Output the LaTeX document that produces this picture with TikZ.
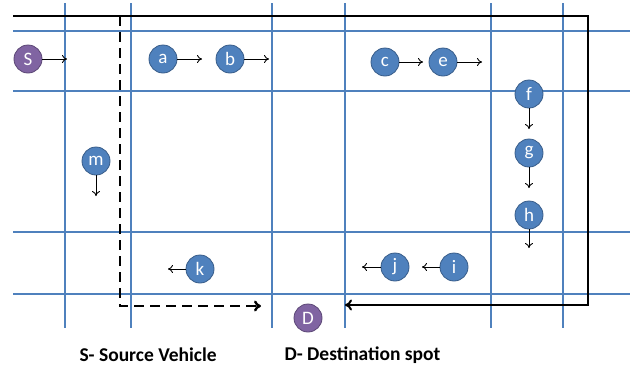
\documentclass[tikz,border=0pt]{standalone}
\usepackage{fontspec}
\setmainfont{Carlito}
\usetikzlibrary{arrows.meta}
\definecolor{gridblue}{HTML}{4F81BD}
\definecolor{nodeblue}{HTML}{4F81BD}
\definecolor{nodeedge}{HTML}{385D8A}
\definecolor{purp}{HTML}{8064A2}
\definecolor{purpedge}{HTML}{5C4776}
\tikzset{
  gridline/.style={draw=gridblue, line width=1.8pt},
  veh/.style={circle, fill=nodeblue, draw=nodeedge, line width=0.8pt, minimum size=28pt, inner sep=0pt, text=white, font=\fontsize{19}{19}\selectfont},
  endpt/.style={veh, fill=purp, draw=purpedge},
  mv/.style={-{To[length=5pt,width=8pt]}, line width=0.9pt, black},
  route/.style={line width=2pt, black, -{To[length=7pt,width=11pt]}},
  caption/.style={font=\fontsize{19.5}{19.5}\selectfont\bfseries, anchor=west}
}
\begin{document}
\begin{tikzpicture}[x=1pt,y=-1pt]
\useasboundingbox[fill=white] (0,0) rectangle (630,370);
% grid
\foreach \xx in {65,131,272,345,491,563} \draw[gridline] (\xx,3) -- (\xx,328);
\foreach \yy in {31,91,232,294} \draw[gridline] (13,\yy) -- (630,\yy);
% routes
\coordinate (r0) at (13,16);
\coordinate (r1) at (588,16);
\coordinate (r2) at (588,305);
\coordinate (r3) at (345,305);
\draw[route] (r0) -- (r1) -- (r2) -- (r3);
\coordinate (d0) at (120,16);
\coordinate (d1) at (120,306);
\coordinate (d2) at (261,306);
\draw[route, line width=2.4pt, dash pattern=on 10pt off 6pt] (d0) -- (d1) -- (d2);
% vehicles
\node[endpt] (S) at (28,59) {S};
\node[veh] (a) at (163,59) {a};
\node[veh] (b) at (230,59) {b};
\node[veh] (m) at (96,161) {m};
\node[veh] (c) at (385,62) {c};
\node[veh] (e) at (443,62) {e};
\node[veh] (f) at (529,94) {f};
\node[veh] (g) at (529,153) {g};
\node[veh] (h) at (529,215) {h};
\node[veh] (i) at (454,267) {i};
\node[veh] (j) at (395,267) {j};
\node[veh] (k) at (200,269) {k};
\node[endpt] (D) at (308,318) {D};
% motion arrows
\coordinate (Sx) at (67,59);
\coordinate (ax) at (202,59);
\coordinate (bx) at (269,59);
\coordinate (mx) at (96,196);
\coordinate (cx) at (423,62);
\coordinate (ex) at (482,62);
\coordinate (fx) at (529,129);
\coordinate (gx) at (529,188);
\coordinate (hx) at (529,248);
\coordinate (ix) at (422,267);
\coordinate (jx) at (362,267);
\coordinate (kx) at (168,269);
\draw[mv] (S) -- (Sx);
\draw[mv] (a) -- (ax);
\draw[mv] (b) -- (bx);
\draw[mv] (m) -- (mx);
\draw[mv] (c) -- (cx);
\draw[mv] (e) -- (ex);
\draw[mv] (f) -- (fx);
\draw[mv] (g) -- (gx);
\draw[mv] (h) -- (hx);
\draw[mv] (i) -- (ix);
\draw[mv] (j) -- (jx);
\draw[mv] (k) -- (kx);
% captions
\node[caption] (capS) at (76,355) {S- Source Vehicle};
\node[caption] (capD) at (281,355) {D- Destination spot};
\end{tikzpicture}
\end{document}
